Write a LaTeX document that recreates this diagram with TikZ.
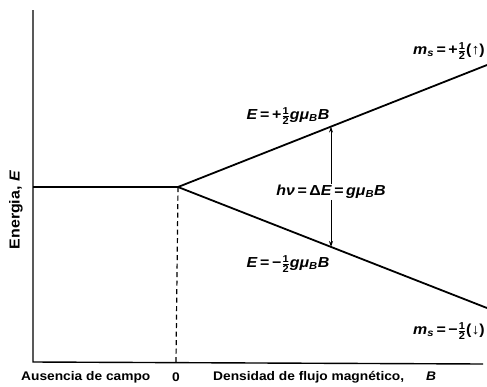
\documentclass[tikz,border=0pt]{standalone}
\usepackage{fontspec}
\setmainfont{Liberation Sans}[FakeStretch=1.1]
\usetikzlibrary{arrows.meta}
\newcommand{\hlf}{$\frac{\mbox{\fontsize{10}{10}\selectfont\bfseries 1}}{\mbox{\fontsize{10}{10}\selectfont\bfseries 2}}$}
\newcommand{\eq}{\hspace{2.5pt}=\hspace{2.5pt}}
\newcommand{\gmb}{\textit{gμ}\textsubscript{\textit{B}}\textit{B}}
\tikzset{
  axis/.style={line width=1.4pt},
  level/.style={line width=1.8pt},
  lbl/.style={font=\fontsize{12.5}{14}\selectfont\bfseries, inner sep=1pt},
  mlbl/.style={font=\fontsize{14.5}{16}\selectfont\bfseries, inner sep=1pt},
  gap/.style={-{Stealth[length=6pt,width=4pt]}, line width=0.9pt}
}
\begin{document}
\begin{tikzpicture}[x=1pt,y=-1pt]
\useasboundingbox (0,0) rectangle (487,386);
\coordinate (top) at (33,10);
\coordinate (orig) at (33,362);
\coordinate (xend) at (483,364);
\coordinate (O) at (178,187);
\coordinate (L) at (33,187);
\coordinate (Obot) at (176,362);
\coordinate (Uend) at (487,65);
\coordinate (Dend) at (487,308);
\coordinate (Ua) at (331,126.6);
\coordinate (Da) at (331,247);
\draw[axis] (top) -- (orig) -- (xend);
\draw[level] (L) -- (O) -- (Uend);
\draw[level] (O) -- (Dend);
\draw[line width=1.2pt, dash pattern=on 5pt off 3.5pt] (Obot) -- (O);
\node[mlbl] (hv) at (331,192) {\textit{hν}\eq Δ\textit{E}\eq\gmb};
\draw[gap] (hv.north -| Ua) -- (Ua);
\draw[gap] (hv.south -| Da) -- (Da);
\node[mlbl] (Eu) at (288,116) {\textit{E}\eq+\hlf\gmb};
\node[mlbl] (Ed) at (288,264) {\textit{E}\eq−\hlf\gmb};
\node[mlbl, anchor=east] (mu) at (486,51) {\textit{m}\textsubscript{\textit{s}}\eq+\hlf(↑)};
\node[mlbl, anchor=east] (md) at (486,331) {\textit{m}\textsubscript{\textit{s}}\eq−\hlf(↓)};
\node[mlbl, rotate=90] (ey) at (16,210) {Energia, \textit{E}};
\node[lbl, anchor=west] (aus) at (20,377) {Ausencia de campo};
\node[lbl] (zero) at (176,377) {0};
\node[lbl, anchor=west] (dens) at (212,377) {Densidad de flujo magnético,\hspace{22pt}\textit{B}};
\end{tikzpicture}
\end{document}
